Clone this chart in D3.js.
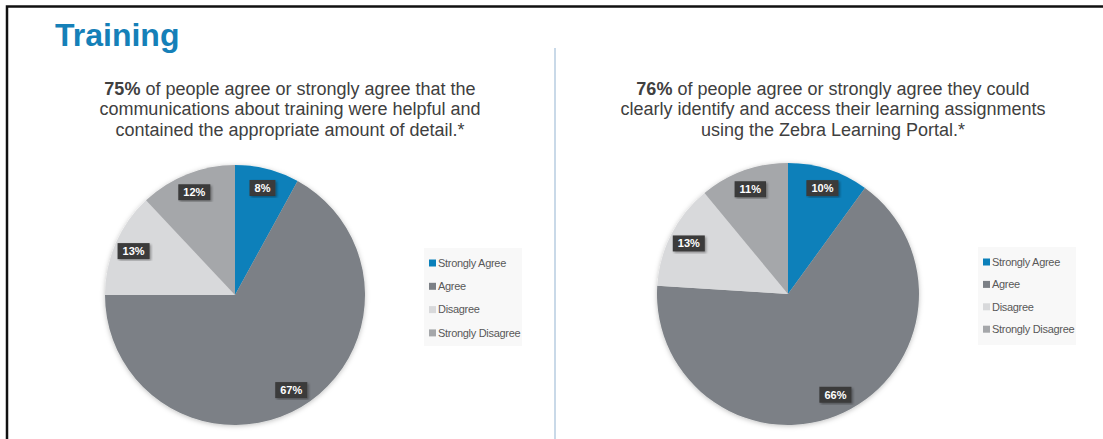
<!DOCTYPE html>
<html>
<head>
<meta charset="utf-8">
<script src="https://cdn.jsdelivr.net/npm/d3@7"></script>
<style>
  body { margin: 0; background: #fff; }
  svg { display: block; font-family: "Liberation Sans", Arial, sans-serif; }
</style>
</head>
<body>
<svg id="chart" width="1103" height="439"></svg>
<script>
// data
const categories = ["Strongly Agree", "Agree", "Disagree", "Strongly Disagree"];
const leftValues = [8, 67, 13, 12];
const rightValues = [10, 66, 13, 11];
const sliceColors = ["#0b80ba", "#7c8086", "#d8d9db", "#a5a7aa"];
const leftTitle = ["75%", " of people agree or strongly agree that the",
  "communications about training were helpful and",
  "contained the appropriate amount of detail.*"];
const rightTitle = ["76%", " of people agree or strongly agree they could",
  "clearly identify and access their learning assignments",
  "using the Zebra Learning Portal.*"];

const svg = d3.select("#chart");

const defs = svg.append("defs");
const sh = defs.append("filter").attr("id", "pieShadow")
  .attr("x", "-10%").attr("y", "-10%").attr("width", "120%").attr("height", "120%");
sh.append("feDropShadow").attr("dx", 0).attr("dy", 1).attr("stdDeviation", 2.5)
  .attr("flood-color", "#000").attr("flood-opacity", 0.25);
const lsh = defs.append("filter").attr("id", "labelShadow");
lsh.append("feDropShadow").attr("dx", 1.5).attr("dy", 1.5).attr("stdDeviation", 1)
  .attr("flood-color", "#000").attr("flood-opacity", 0.35);

// frame (top and left edges only)
svg.append("path").attr("d", "M7,439 V6.5 H1103")
  .attr("fill", "none").attr("stroke", "#111").attr("stroke-width", 2.5);

svg.append("text").attr("x", 55).attr("y", 46)
  .attr("font-size", 32).attr("font-weight", "bold").attr("fill", "#1580b8")
  .text("Training");

// divider
svg.append("line").attr("x1", 555).attr("x2", 555).attr("y1", 48).attr("y2", 439)
  .attr("stroke", "#b7cde0").attr("stroke-width", 1.5);

const color = d3.scaleOrdinal().domain(categories).range(sliceColors);

function drawPanel(values, title, cx, cy, r, titleX, legendX, legendY, legendGap) {
  const t = svg.append("text").attr("text-anchor", "middle")
    .attr("font-size", 18).attr("fill", "#404040");
  const first = t.append("tspan").attr("x", titleX).attr("y", 95);
  first.append("tspan").attr("font-weight", "bold").text(title[0]);
  first.append("tspan").text(title[1]);
  title.slice(2).forEach((line, i) => {
    t.append("tspan").attr("x", titleX).attr("y", 115 + i * 20.5).text(line);
  });

  const data = categories.map((c, i) => ({ cat: c, value: values[i] }));
  const pie = d3.pie().sort(null).value(d => d.value);
  const arc = d3.arc().innerRadius(0).outerRadius(r);
  const labelArc = d3.arc().innerRadius(r * 0.85).outerRadius(r * 0.85);

  const g = svg.append("g").attr("transform", `translate(${cx},${cy})`);
  g.append("g").attr("filter", "url(#pieShadow)")
    .selectAll("path").data(pie(data)).enter().append("path")
    .attr("d", arc).attr("fill", d => color(d.data.cat));

  const lab = g.selectAll("g.lab").data(pie(data)).enter().append("g")
    .attr("class", "lab")
    .attr("transform", d => `translate(${labelArc.centroid(d)})`);
  lab.append("rect").attr("filter", "url(#labelShadow)").attr("fill", "#3a3a3a");
  lab.append("text").attr("text-anchor", "middle").attr("dy", "0.36em")
    .attr("font-size", 11).attr("font-weight", "bold").attr("fill", "#fff")
    .text(d => d.data.value + "%");
  lab.each(function() {
    const w = d3.select(this).select("text").node().getComputedTextLength() + 10;
    d3.select(this).select("rect").attr("x", -w / 2).attr("y", -8).attr("width", w).attr("height", 16);
  });

  // legend
  const lg = svg.append("g").attr("transform", `translate(${legendX},${legendY})`);
  lg.append("rect").attr("x", -5).attr("y", -15).attr("width", 98).attr("height", 98)
    .attr("fill", "#f8f8f8");
  const item = lg.selectAll("g").data(categories).enter().append("g")
    .attr("transform", (d, i) => `translate(0,${i * legendGap})`);
  item.append("rect").attr("x", 0).attr("y", -3.5).attr("width", 7).attr("height", 7)
    .attr("fill", d => color(d));
  item.append("text").attr("x", 9).attr("dy", "0.35em")
    .attr("font-size", 11).attr("fill", "#595959").attr("letter-spacing", -0.3)
    .text(d => d);
}

drawPanel(leftValues, leftTitle, 235, 295, 130, 290, 429, 263, 23.3);
drawPanel(rightValues, rightTitle, 788, 294, 131, 833, 983, 262, 22.4);
</script>
</body>
</html>
